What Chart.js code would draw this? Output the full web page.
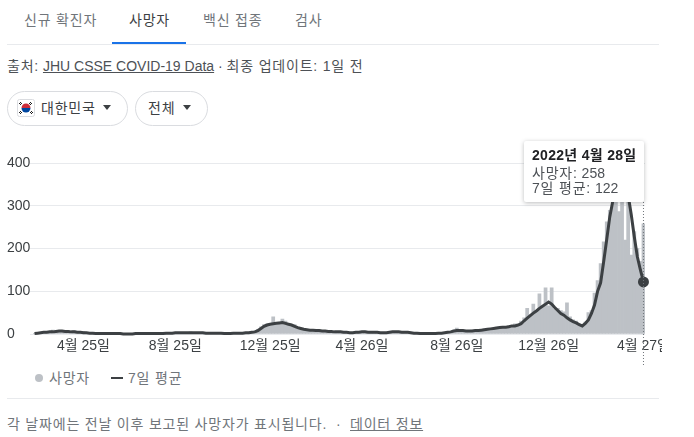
<!DOCTYPE html>
<html lang="ko">
<head>
<meta charset="utf-8">
<title>사망자</title>
<script src="https://cdn.jsdelivr.net/npm/chart.js@4"></script>
<style>
html, body { margin: 0; padding: 0; background: #fff; }
body { width: 694px; height: 437px; position: relative; overflow: hidden; font-family: "Liberation Sans", "Noto Sans CJK KR", sans-serif; font-size: 14px; color: #70757a; }
.t { position: absolute; white-space: nowrap; line-height: 18px; }
.ko { letter-spacing: .8px; }
.rule { position: absolute; left: 7px; width: 652px; height: 1px; background: #e8eaed; }
.pill { position: absolute; top: 91px; height: 33px; border: 1px solid #dadce0; border-radius: 18px; }
.caret { position: absolute; width: 0; height: 0; border-left: 4.5px solid transparent; border-right: 4.5px solid transparent; border-top: 5px solid #3c4043; top: 105px; }
a { color: inherit; }
#wrap { position: absolute; left: 0; top: 125px; width: 662px; height: 240px; overflow: hidden; }
#tip { position: absolute; left: 524px; top: 141px; width: 120px; height: 61px; background: #fff; box-shadow: 0 1px 4px rgba(60,64,67,.35); border-radius: 2px; }
</style>
</head>
<body>

<div class="t ko" style="left:24px;top:11px">신규 확진자</div>
<div class="t ko" style="left:129px;top:11px;color:#3c4043">사망자</div>
<div class="t ko" style="left:203px;top:11px">백신 접종</div>
<div class="t ko" style="left:295px;top:11px">검사</div>
<div style="position:absolute;left:112px;top:42px;width:74px;height:3px;background:#1a73e8"></div>
<div class="rule" style="top:44px"></div>

<div class="t" style="left:7px;top:57px;color:#4d5156"><span class="ko">출처:</span> <a href="#">JHU CSSE COVID-19 Data</a> · <span class="ko">최종 업데이트: 1일 전</span></div>

<div class="pill" style="left:7px;width:119px"></div>
<svg style="position:absolute;left:17px;top:99px" width="18" height="18" viewBox="0 0 18 18">
	<rect x="0.5" y="0.5" width="17" height="17" rx="2" fill="#fff" stroke="#dadce0"/>
	<path d="M4.5 9a4.5 4.5 0 0 1 9 0z" fill="#cd2e3a"/>
	<path d="M4.5 9a4.5 4.5 0 0 0 9 0z" fill="#0047a0"/>
	<path d="M2 5l2-2M3 6l2-2M13 3l2 2M12 4l2 2M2 13l2 2M3 12l2 2M14 12l2 2M13 13l2 2" stroke="#222" stroke-width="1"/>
</svg>
<div class="t ko" style="left:41px;top:99px;color:#3c4043">대한민국</div>
<div class="caret" style="left:103px"></div>
<div class="pill" style="left:135px;width:71px"></div>
<div class="t ko" style="left:148px;top:99px;color:#3c4043">전체</div>
<div class="caret" style="left:183px"></div>

<div id="wrap"><canvas id="chartCanvas" width="694" height="240"></canvas></div>

<div id="tip"></div>
<div class="t" style="left:532px;top:146px;color:#202124;font-weight:bold;letter-spacing:.3px">2022년 4월 28일</div>
<div class="t" style="left:532px;top:164px;color:#4d5156"><span class="ko">사망자:</span> 258</div>
<div class="t" style="left:532px;top:179px;color:#4d5156"><span class="ko">7일 평균:</span> 122</div>

<div style="position:absolute;left:35px;top:374px;width:8px;height:8px;border-radius:50%;background:#bdc1c6"></div>
<div class="t ko" style="left:49px;top:369px">사망자</div>
<div style="position:absolute;left:111px;top:377px;width:12px;height:2px;background:#3c4043"></div>
<div class="t ko" style="left:128px;top:369px">7일 평균</div>

<div class="rule" style="top:398px"></div>
<div class="t ko" style="left:7px;top:415px">각 날짜에는 전날 이후 보고된 사망자가 표시됩니다.</div>
<div class="t" style="left:336px;top:415px">·</div>
<div class="t ko" style="left:350px;top:415px"><a href="#">데이터 정보</a></div>

<script>
// one value per 4 days
const deaths = [
	1,0,3,5,3,6,9,5,8,7,4,8,5,8,6,4,6,3,2,4,
	1,2,1,0,2,1,0,1,2,0,0,1,0,1,1,2,0,1,2,1,
	1,0,2,2,3,2,3,4,2,4,3,5,2,3,4,3,2,2,3,1,
	2,3,1,1,0,2,3,2,1,3,4,5,7,11,17,22,24,20,40,24,
	28,35,30,24,20,22,16,12,13,9,11,8,9,10,7,6,8,5,4,6,
	6,3,5,3,2,5,3,6,7,3,5,3,4,2,4,3,5,6,5,6,
	4,5,3,4,1,2,1,2,0,1,2,1,3,2,4,5,6,9,14,9,
	6,8,5,9,7,10,8,12,10,13,11,16,13,18,14,20,17,24,19,30,
	38,60,45,70,50,94,62,108,66,108,58,60,55,52,73,40,33,30,24,18,
	28,50,55,96,125,165,216,263,290,350,395,287,430,220,350,185,240,200,170,258,
]
const average = [
	1,2,3,4,4,5,5,6,7,7,6,6,5,5,4,4,3,3,2,2,
	1,1,1,1,1,1,1,1,1,0,0,0,0,1,1,1,1,1,1,1,
	1,1,1,2,2,2,3,3,3,3,3,3,3,3,3,3,2,2,2,2,
	2,2,1,1,1,2,2,2,2,3,3,4,5,8,13,18,21,23,24,25,
	26,27,25,23,21,18,15,13,11,10,9,9,8,8,7,7,6,6,5,5,
	5,4,4,3,3,4,4,5,5,4,4,4,4,3,3,3,4,5,5,5,
	4,4,4,3,2,2,1,1,1,1,1,1,2,2,3,4,5,7,8,8,
	8,7,7,7,8,8,9,10,11,12,13,14,15,16,16,17,19,19,21,24,
	31,37,43,49,54,60,65,70,75,70,62,55,48,44,38,33,29,26,22,19,
	25,33,48,68,100,120,170,222,275,312,345,360,365,355,325,280,228,181,150,122,
]
const tickIndexes = [16, 46, 77, 107, 138, 168, 199]
const tickLabels = ['4월 25일', '8월 25일', '12월 25일', '4월 26일', '8월 26일', '12월 26일', '4월 27일']
const yTicks = [0, 100, 200, 300, 400]

const categories = deaths.map((v, i) => {
	let n = tickIndexes.indexOf(i)
	return n >= 0 ? tickLabels[n] : ''
})
const last = deaths.length - 1
const tickFont = { family: '"Liberation Sans", "Noto Sans CJK KR", sans-serif', size: 14 }

// dotted line under the hovered day
const hoverLine = {
	id: 'hoverLine',
	afterDatasetsDraw(chart) {
		let x = chart.scales.x.getPixelForValue(last)
		let ctx = chart.ctx
		ctx.save()
		ctx.strokeStyle = '#70757a'
		ctx.lineWidth = 1
		ctx.setLineDash([1, 2])
		ctx.beginPath()
		ctx.moveTo(x, 20)
		ctx.lineTo(x, chart.height)
		ctx.stroke()
		ctx.restore()
	},
}

new Chart(document.getElementById('chartCanvas'), {
	data: {
		labels: categories,
		datasets: [{
			type: 'line',
			label: '7일 평균',
			data: average,
			order: 1,
			borderColor: '#3c4043',
			backgroundColor: '#3c4043',
			borderWidth: 3,
			tension: 0,
			clip: false,
			pointRadius: ctx => ctx.dataIndex === last ? 4 : 0,
		}, {
			type: 'bar',
			label: '사망자',
			data: deaths,
			order: 2,
			backgroundColor: '#bdc1c6',
			barPercentage: 1,
			categoryPercentage: 1,
		}],
	},
	options: {
		responsive: false,
		animation: false,
		layout: { padding: { left: 7, right: 49, top: 8, bottom: 0 } },
		plugins: {
			legend: { display: false },
			tooltip: { enabled: false },
		},
		scales: {
			x: {
				grid: { display: false },
				border: { display: false },
				afterFit: s => { s.height = 31 },
				ticks: {
					autoSkip: false,
					maxRotation: 0,
					minRotation: 0,
					padding: -4,
					color: '#3c4043',
					font: tickFont,
				},
			},
			y: {
				min: 0,
				max: 470,
				afterFit: s => { s.width = 26 },
				afterBuildTicks: s => { s.ticks = yTicks.map(value => ({ value })) },
				border: { display: false },
				grid: { color: '#e8eaed', tickLength: 3 },
				ticks: {
					crossAlign: 'far',
					padding: 0,
					color: '#3c4043',
					font: tickFont,
				},
			},
		},
	},
	plugins: [hoverLine],
})
</script>
</body>
</html>
